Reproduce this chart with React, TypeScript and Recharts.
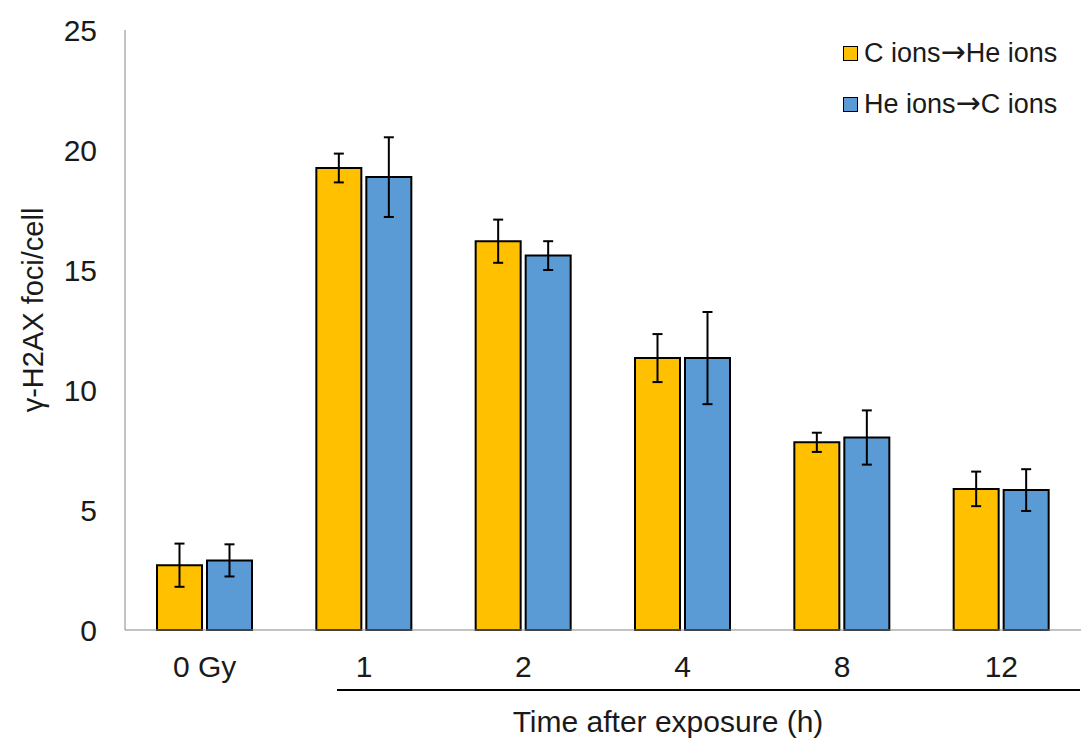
import { BarChart, Bar, XAxis, YAxis, ErrorBar } from "recharts";

const categories = ["0 Gy", "1", "2", "4", "8", "12"];
const cToHe = [2.7, 19.25, 16.2, 11.33, 7.82, 5.88];
const cToHeErr = [0.9, 0.6, 0.9, 1.0, 0.4, 0.72];
const heToC = [2.9, 18.87, 15.6, 11.33, 8.02, 5.83];
const heToCErr = [0.67, 1.66, 0.6, 1.92, 1.13, 0.87];
const yTicks = [0, 5, 10, 15, 20, 25];

const seriesNames = [
  ["C ions", "He ions"],
  ["He ions", "C ions"],
];
const colors = ["#FFC000", "#5B9BD5"];

const data = categories.map((c, i) => ({
  name: c,
  cToHe: cToHe[i],
  cToHeErr: cToHeErr[i],
  heToC: heToC[i],
  heToCErr: heToCErr[i],
}));

const font = "'Liberation Sans', Arial, sans-serif";

const LegendBox = () => (
  <div
    style={{
      position: "absolute",
      left: 843,
      top: 28,
      fontFamily: font,
      fontSize: 27,
      color: "#1a1a1a",
      whiteSpace: "nowrap",
    }}
  >
    {seriesNames.map((n, i) => (
      <div key={i} style={{ display: "flex", alignItems: "center", height: 51 }}>
        <span
          style={{
            display: "inline-block",
            width: 13,
            height: 13,
            background: colors[i],
            border: "1.5px solid #000",
            marginRight: 6,
          }}
        />
        <span>
          {n[0]}
          <span style={{ fontFamily: "'DejaVu Sans', sans-serif", fontSize: 30, lineHeight: "27px" }}>
            {"\u2192"}
          </span>
          {n[1]}
        </span>
      </div>
    ))}
  </div>
);

export default function App() {
  return (
    <div style={{ position: "absolute", left: 0, top: 0, width: 1084, height: 740, background: "#fff" }}>
      <BarChart
        width={1084}
        height={740}
        data={data}
        margin={{ top: 30, right: 3, bottom: 0, left: 0 }}
        barSize={45}
        barGap={5}
      >
        <XAxis
          dataKey="name"
          height={110}
          stroke="#868686"
          tickLine={false}
          tickSize={0}
          tickMargin={26}
          tick={{ fill: "#1a1a1a", fontSize: 30, fontFamily: font }}
        />
        <YAxis
          width={125}
          domain={[0, 25]}
          ticks={yTicks}
          stroke="#868686"
          tickLine={false}
          tickSize={0}
          tickMargin={28}
          tick={{ fill: "#1a1a1a", fontSize: 30, fontFamily: font }}
        />
        <Bar dataKey="cToHe" fill={colors[0]} stroke="#000" strokeWidth={2} isAnimationActive={false}>
          <ErrorBar dataKey="cToHeErr" width={5} stroke="#000" strokeWidth={2} direction="y" />
        </Bar>
        <Bar dataKey="heToC" fill={colors[1]} stroke="#000" strokeWidth={2} isAnimationActive={false}>
          <ErrorBar dataKey="heToCErr" width={5} stroke="#000" strokeWidth={2} direction="y" />
        </Bar>
      </BarChart>
      <LegendBox />
      <svg
        width={1084}
        height={740}
        style={{ position: "absolute", left: 0, top: 0, pointerEvents: "none" }}
      >
        <line x1={337} x2={1080} y1={690} y2={690} stroke="#000" strokeWidth={2} />
        <text x={668} y={732} textAnchor="middle" fontSize={30} fontFamily={font} fill="#1a1a1a">
          Time after exposure (h)
        </text>
        <text
          transform="translate(43,310) rotate(-90)"
          textAnchor="middle"
          fontSize={29}
          fontFamily={font}
          fill="#1a1a1a"
        >
          γ-H2AX foci/cell
        </text>
      </svg>
    </div>
  );
}
